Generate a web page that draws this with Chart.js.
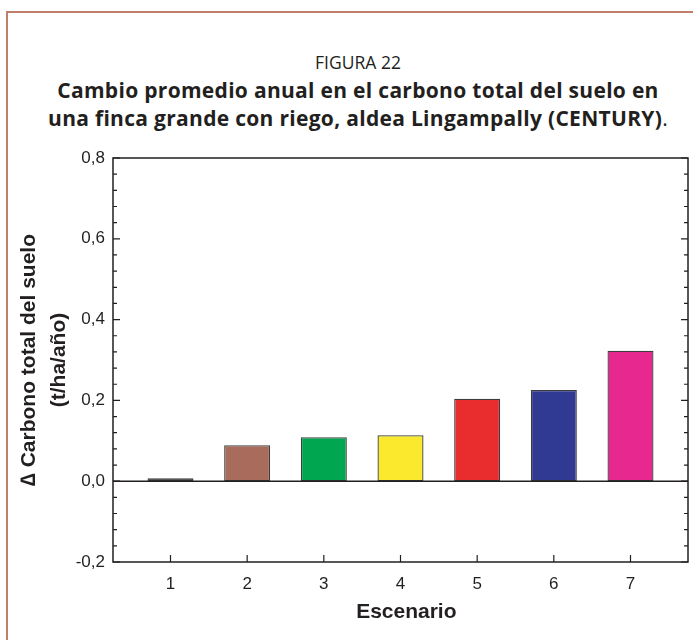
<!DOCTYPE html>
<html>
<head>
<meta charset="utf-8">
<script src="https://cdn.jsdelivr.net/npm/chart.js@4.4.1/dist/chart.umd.min.js"></script>
<style>
  html, body { margin: 0; padding: 0; background: #fff; }
  #wrap { position: relative; width: 693px; height: 640px; overflow: hidden; }
  #frame {
    position: absolute; left: 6px; top: 11px; width: 760px; height: 700px;
    border-top: 2px solid #bf7f6a; border-left: 2px solid #bf7f6a;
  }
  #title {
    position: absolute; left: 0; top: 47px; width: 716px; text-align: center;
    font-family: 'Open Sans', sans-serif; font-size: 21px; line-height: 28px; color: #231f20;
    letter-spacing: 0.3px;
  }
  #title .fig { font-size: 17.5px; letter-spacing: 0; }
  #title b { font-weight: 700; }
  #chart { position: absolute; left: 0; top: 0; }
</style>
</head>
<body>
<div id="wrap">
  <div id="frame"></div>
  <div id="title">
    <span class="fig">FIGURA 22</span><br>
    <b>Cambio promedio anual en el carbono total del suelo en</b><br>
    <b>una finca grande con riego, aldea Lingampally (CENTURY)</b>.
  </div>
  <canvas id="chart" width="693" height="640"></canvas>
</div>
<script>
// Data
const escenarios = [1, 2, 3, 4, 5, 6, 7];
const cambioCarbono = [0.007, 0.089, 0.109, 0.114, 0.204, 0.226, 0.323];
const yTicks = [-0.2, 0, 0.2, 0.4, 0.6, 0.8];

// Colours per bar
const barColors = ['#231f20', '#a86b5c', '#00a650', '#fbe92d', '#e92d2f', '#313a92', '#e7298f'];

const ink = '#231f20';

// Draws the plot box, inward ticks and the zero line
const frameBox = {
  id: 'frameBox',
  afterDraw(chart) {
    const { ctx, chartArea: a, scales: { x, y } } = chart;
    ctx.save();
    ctx.strokeStyle = ink;
    ctx.lineWidth = 1.5;

    // zero line
    const y0 = y.getPixelForValue(0);
    ctx.beginPath();
    ctx.moveTo(a.left, y0);
    ctx.lineTo(a.right, y0);
    ctx.stroke();

    ctx.lineWidth = 1.2;
    ctx.beginPath();
    // y ticks (major + 4 minor), left and right side
    for (let i = 0; i < yTicks.length; i++) {
      const py = y.getPixelForValue(yTicks[i]);
      ctx.moveTo(a.left, py); ctx.lineTo(a.left + 7, py);
      ctx.moveTo(a.right, py); ctx.lineTo(a.right - 7, py);
      if (i < yTicks.length - 1) {
        const step = (yTicks[i + 1] - yTicks[i]) / 5;
        for (let k = 1; k < 5; k++) {
          const pm = y.getPixelForValue(yTicks[i] + step * k);
          ctx.moveTo(a.left, pm); ctx.lineTo(a.left + 4, pm);
          ctx.moveTo(a.right, pm); ctx.lineTo(a.right - 4, pm);
        }
      }
    }
    // x ticks at the bottom
    escenarios.forEach(v => {
      const px = x.getPixelForValue(v);
      ctx.moveTo(px, a.bottom); ctx.lineTo(px, a.bottom - 7);
    });
    ctx.stroke();

    // box
    ctx.lineWidth = 1.5;
    ctx.strokeRect(a.left, a.top, a.right - a.left, a.bottom - a.top);
    ctx.restore();
  }
};

new Chart(document.getElementById('chart'), {
  type: 'bar',
  data: {
    datasets: [{
      data: escenarios.map((e, i) => ({ x: e, y: cambioCarbono[i] })),
      backgroundColor: barColors,
      borderColor: '#3d3d3d',
      borderWidth: 1.3,
      borderSkipped: false,
      barPercentage: 0.6,
      categoryPercentage: 1
    }]
  },
  options: {
    responsive: false,
    animation: false,
    layout: { padding: { top: 158, right: 5, bottom: 0, left: 0 } },
    plugins: { legend: { display: false }, tooltip: { enabled: false } },
    scales: {
      x: {
        type: 'linear',
        offset: false,
        min: 0.25,
        max: 7.75,
        afterBuildTicks: (scale) => { scale.ticks = escenarios.map(v => ({ value: v })); },
        afterFit: (scale) => { scale.height = 78; },
        grid: { display: false, drawTicks: false, offset: false },
        border: { display: false },
        ticks: {
          color: ink,
          padding: 12,
          font: { family: 'Liberation Sans', size: 17 },
          callback: (v) => String(v)
        },
        title: {
          display: true,
          text: '  Escenario',
          color: ink,
          font: { family: 'Liberation Sans', size: 21, weight: 'bold' },
          padding: { top: 0, bottom: 15 }
        }
      },
      y: {
        min: -0.2,
        max: 0.8,
        afterBuildTicks: (scale) => { scale.ticks = yTicks.map(v => ({ value: v })); },
        afterFit: (scale) => { scale.width = 113; },
        grid: { display: false, drawTicks: false },
        border: { display: false },
        ticks: {
          color: ink,
          padding: 8,
          font: { family: 'Liberation Sans', size: 17 },
          callback: (v) => v.toFixed(1).replace('.', ',')
        },
        title: {
          display: true,
          text: ['\u2206 Carbono total del suelo', '(t/ha/año)'],
          color: ink,
          font: { family: 'Liberation Sans', size: 21, weight: 'bold', lineHeight: 1.43 },
          padding: { top: 14, bottom: 0 }
        }
      }
    }
  },
  plugins: [frameBox]
});
</script>
</body>
</html>
